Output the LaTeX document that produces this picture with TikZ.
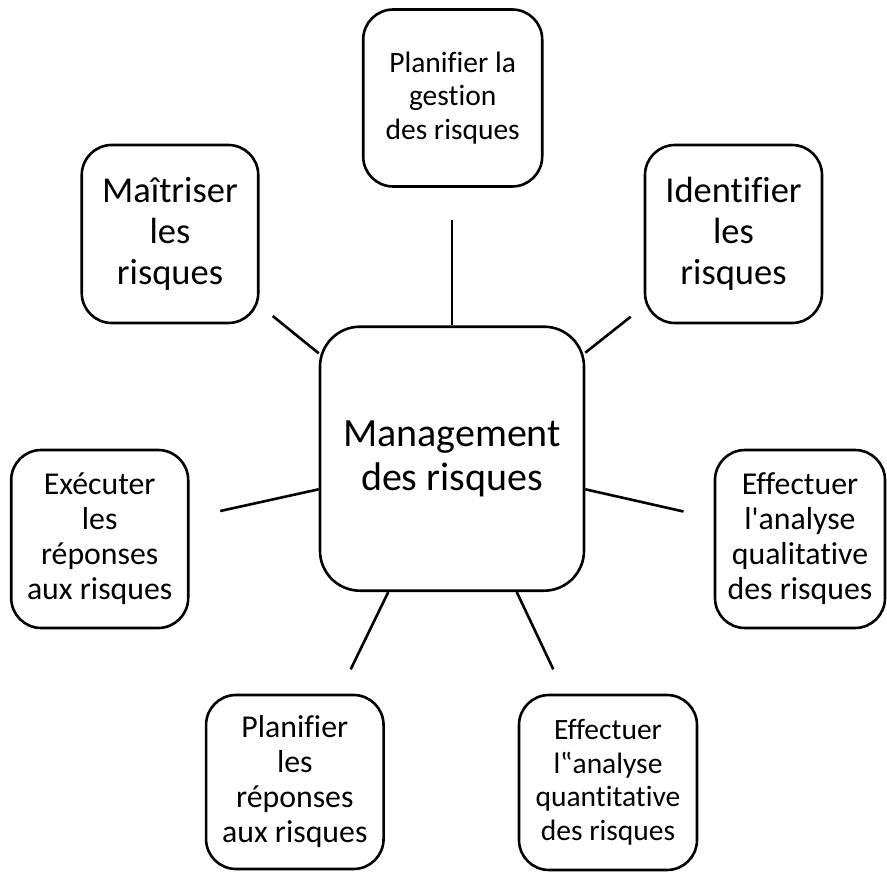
\documentclass[tikz,border=0pt]{standalone}
\usepackage{fontspec}
% plain text face: no ligatures, straight apostrophes kept as typed
\newfontfamily\boxfont{Carlito}[Ligatures={NoCommon,NoRare,NoContextual}]
\begin{document}
\begin{tikzpicture}[x=1pt,y=-1pt,
  box/.style={draw, line width=2.6pt, rounded corners=30pt, align=center,
    inner sep=0pt, fill=white},
  hub/.style={box, rounded corners=40pt},
  link/.style={line width=2.6pt},
  big/.style={font=\boxfont\fontsize{40}{43.5}\selectfont},
  mid/.style={font=\boxfont\fontsize{36.5}{41}\selectfont},
  small/.style={font=\boxfont\fontsize{31.8}{35}\selectfont},
  tiny/.style={font=\boxfont\fontsize{29.5}{33.5}\selectfont}]
\useasboundingbox (0,0) rectangle (887,872);

% central process
\node[hub, big, minimum width=264pt, minimum height=264pt] (ctr) at (452,458.7)
  {Management\\des risques};

% surrounding processes
\node[box, tiny, minimum width=179pt, minimum height=177pt] (plan) at (452.7,98)
  {Planifier la\\gestion\\des risques};
\node[box, mid, minimum width=177pt, minimum height=178pt] (ident) at (733.5,234)
  {Identifier\\les\\risques};
\node[box, mid, minimum width=176.5pt, minimum height=178pt] (maitr) at (170,234)
  {Maîtriser\\les\\risques};
\node[box, small, minimum width=177pt, minimum height=178pt] (exec) at (99.7,539)
  {Exécuter\\les\\réponses\\aux risques};
\node[box, small, minimum width=170pt, minimum height=178pt] (qual) at (800,539)
  {Effectuer\\l'analyse\\qualitative\\des risques};
\node[box, small, minimum width=177.5pt, minimum height=174pt] (rep) at (294.8,782)
  {Planifier\\les\\réponses\\aux risques};
\node[box, tiny, minimum width=178pt, minimum height=175pt] (quant) at (608,782.5)
  {Effectuer\\l‟analyse\\quantitative\\des risques};

% free ends of the spokes
\coordinate (e-plan)  at (452,220);
\coordinate (e-maitr) at (272.7,316);
\coordinate (e-ident) at (630.7,316.7);
\coordinate (e-exec)  at (220.3,511);
\coordinate (e-qual)  at (683.5,511.5);
\coordinate (e-rep)   at (350.7,669.3);
\coordinate (e-quant) at (553.3,669.3);

% spokes from the hub
\draw[link] (ctr.north) -- (e-plan);
\draw[link] ([yshift=105.4pt]ctr.west) -- (e-maitr);
\draw[link] ([yshift=106pt]ctr.east) -- (e-ident);
\draw[link] ([yshift=-30.6pt]ctr.west) -- (e-exec);
\draw[link] ([yshift=-30.6pt]ctr.east) -- (e-qual);
\draw[link] ([xshift=-63.7pt]ctr.south) -- (e-rep);
\draw[link] ([xshift=64.7pt]ctr.south) -- (e-quant);
\end{tikzpicture}
\end{document}
